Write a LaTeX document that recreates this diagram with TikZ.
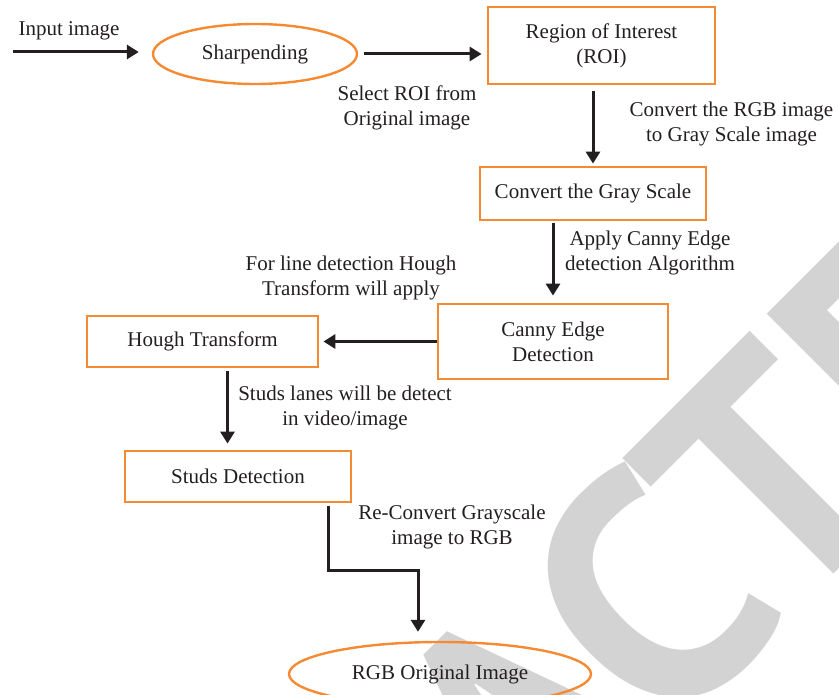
\documentclass[tikz,border=0pt]{standalone}
\usepackage{fontspec}
\setmainfont{Liberation Serif}
\newfontfamily\markfont{PT Sans}
\usetikzlibrary{arrows.meta,shapes.geometric}
\definecolor{boxorange}{RGB}{245,138,50}
\definecolor{linegray}{RGB}{35,31,32}
\definecolor{markgray}{RGB}{211,211,211}

\begin{document}
\begin{tikzpicture}[x=1pt,y=-1pt,
  every node/.style={font=\fontsize{21}{25}\selectfont, text=linegray},
  stage/.style={draw=boxorange, line width=2.8pt, rectangle, inner sep=0pt, align=center},
  endstage/.style={draw=boxorange, line width=2.4pt, ellipse, inner sep=0pt},
  note/.style={align=center, inner sep=0pt},
  flow/.style={draw=linegray, line width=3pt, -{Triangle[length=12pt,width=14pt]}}]
  \useasboundingbox (0,0) rectangle (839,695);
  % watermark
  \begin{scope}
    \clip (0,0) rectangle (839,695);
    \node[rotate=45, anchor=base, text=markgray, font=\markfont\bfseries\fontsize{330}{330}\selectfont] (mark) at (596,812) {RETRACTED};
  \end{scope}
  % stages
  \coordinate (in) at (13,52);
  \node[endstage, minimum width=204pt, minimum height=60pt] (sharp) at (255,54) {Sharpending};
  \node[stage, minimum width=227pt, minimum height=77pt] (roi) at (601.5,45.5) {Region of Interest\\(ROI)};
  \node[stage, minimum width=226pt, minimum height=53pt] (gray) at (593,193.5) {Convert the Gray Scale};
  \node[stage, minimum width=230pt, minimum height=75pt] (canny) at (553,341.5) {Canny Edge\\Detection};
  \node[stage, minimum width=231pt, minimum height=51pt] (hough) at (202.5,341.5) {Hough Transform};
  \node[stage, minimum width=226pt, minimum height=51pt] (studs) at (238,476.5) {Studs Detection};
  \node[endstage, minimum width=302pt, minimum height=64pt] (rgb) at (440,674) {RGB Original Image};
  % labels
  \node[note] (inlabel) at (69,31) {Input image};
  \node[note] (roilabel) at (407,108) {Select ROI from\\Original image};
  \node[note] (graylabel) at (731.5,124) {Convert the RGB image\\to Gray Scale image};
  \node[note] (cannylabel) at (650,253) {Apply Canny Edge\\detection Algorithm};
  \node[note] (houghlabel) at (351,278) {For line detection Hough\\Transform will apply};
  \node[note] (studslabel) at (345,408) {Studs lanes will be detect\\in video/image};
  \node[note] (rgblabel) at (452,527) {Re-Convert Grayscale\\image to RGB};
  % connectors
  \draw[flow, shorten >=13pt] (in) -- (in -| sharp.west);
  \draw[flow, shorten <=6pt, shorten >=5pt] (sharp.east) -- (sharp.east -| roi.west);
  \draw[flow, shorten <=6pt, shorten >=2pt] (roi.south -| gray.north) -- (gray.north);
  \draw[flow, shorten <=2pt, shorten >=7pt] (gray.south -| canny.north) -- (canny.north);
  \draw[flow, shorten >=4pt] (canny.west) -- (hough.east);
  \draw[flow, shorten <=3pt, shorten >=6pt] ([xshift=25pt]hough.south) -- ([xshift=25pt]hough.south |- studs.north);
  \draw[flow, shorten <=3pt, shorten >=9pt] ([xshift=90pt]studs.south) -- ++(0,67) -| ([xshift=-22pt]rgb.north);
\end{tikzpicture}
\end{document}
